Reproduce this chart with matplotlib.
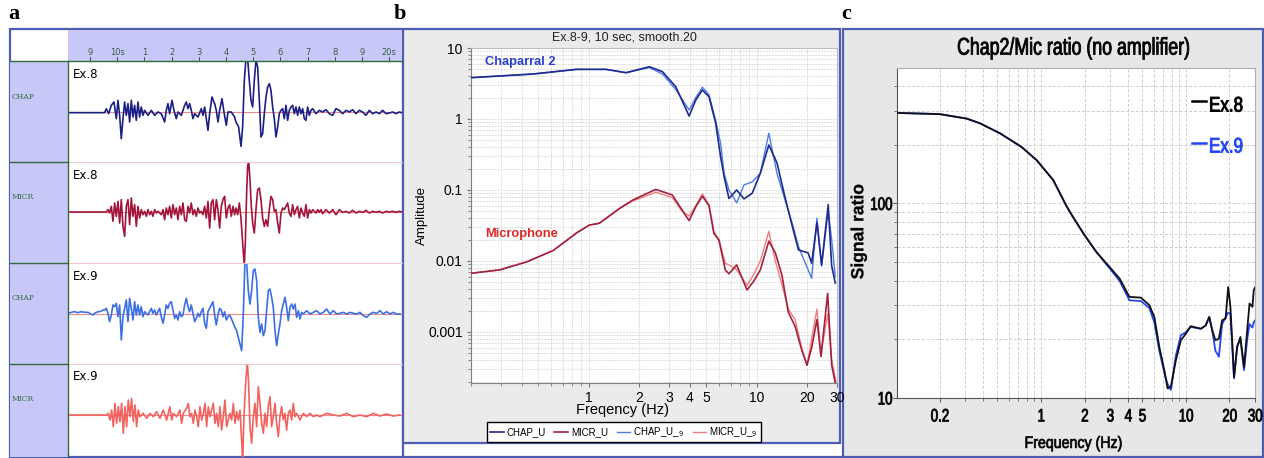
import numpy as np
import matplotlib.pyplot as plt
from matplotlib.patches import Rectangle, PathPatch
from matplotlib.lines import Line2D
from matplotlib.textpath import TextPath
from matplotlib.font_manager import FontProperties
from matplotlib.transforms import Affine2D
from matplotlib.ticker import LogLocator, NullFormatter

SANS = ['Liberation Sans', 'DejaVu Sans']
plt.rcParams['font.family'] = SANS

# ---------------- panel a : traces (sample no., amplitude counts) ----------------
T0 = 8.19     # s, time of sample 0
FS = 81.6     # samples / s

chap8 = [(0,-2),(110,-2),(115,10),(122,-5),(130,20),(138,30),(145,-20),(150,35),(155,-10),(160,-80),
         (165,-20),(170,30),(175,-10),(180,25),(185,-30),(190,35),(195,-15),(200,20),(205,-25),(210,30),
         (215,-15),(220,15),(225,-10),(230,5),(240,-10),(250,5),(260,-10),(270,0),(280,-5),(290,-30),
         (295,5),(300,25),(305,-5),(312,35),(318,5),(325,-20),(330,0),(340,-10),(350,20),(355,30),
         (360,10),(365,25),(370,5),(375,-20),(380,-5),(390,-15),(400,10),(405,-10),(410,15),(415,-20),
         (420,-55),(425,-5),(432,45),(440,25),(445,5),(450,-30),(455,5),(462,40),(468,0),(475,-40),
         (480,0),(490,0),(500,-15),(504,-30),(512,-45),(519,-103),(524,-45),(529,95),(534,160),(539,160),
         (544,95),(549,35),(554,15),(559,95),(564,155),(569,135),(574,35),(579,-75),(584,-65),(589,-5),
         (594,45),(599,75),(604,85),(609,65),(614,15),(619,-20),(624,-75),(629,-45),(634,-5),(639,5),
         (644,10),(649,-20),(654,20),(659,-25),(664,5),(669,15),(674,20),(679,-5),(684,15),(689,-10),
         (694,15),(699,-5),(704,10),(709,-20),(714,-25),(719,15),(724,-10),(729,5),(734,10),(744,-5),
         (754,5),(764,0),(774,7),(784,-5),(794,-10),(804,10),(814,5),(824,-5),(834,5),(844,0),(854,7),
         (864,-5),(874,5),(884,0),(894,-10),(904,5),(914,-5),(924,0),(934,-5),(944,5),(954,-5),(964,-3),
         (974,0),(984,-5),(994,0),(1004,-3)]

micr8 = [(0,0),(115,0),(120,7),(125,-3),(130,17),(135,-28),(140,27),(145,-13),(150,32),(155,-33),
         (160,37),(165,-43),(170,-73),(175,17),(180,37),(185,-38),(190,42),(195,-13),(200,22),(205,-43),
         (210,17),(215,-18),(220,7),(225,-8),(230,2),(235,-13),(240,7),(245,-8),(250,2),(255,-13),
         (260,7),(265,-3),(270,2),(280,-8),(285,7),(290,-23),(295,12),(300,-8),(305,17),(310,-18),
         (315,22),(320,-8),(325,12),(330,-23),(335,17),(340,-8),(345,27),(350,-23),(355,-28),(360,17),
         (365,-3),(370,27),(375,-8),(380,7),(385,-13),(390,12),(395,-3),(400,2),(405,-8),(410,17),
         (415,-18),(420,32),(425,-48),(430,27),(435,37),(440,-23),(445,37),(450,7),(455,-48),(460,17),
         (465,37),(470,47),(475,-18),(480,12),(485,22),(490,-13),(495,17),(500,-8),(504,12),(509,-8),
         (514,27),(519,-18),(524,-93),(529,-160),(532,-93),(536,57),(539,137),(542,155),(546,97),(550,17),
         (554,-33),(559,-63),(564,7),(569,67),(574,72),(579,37),(584,-18),(589,-43),(594,-23),(599,-43),
         (604,7),(609,47),(614,37),(619,2),(624,7),(629,-33),(634,-63),(639,-3),(644,12),(649,7),
         (654,17),(659,27),(664,-3),(669,-13),(674,22),(679,-8),(684,7),(689,17),(694,-18),(699,12),
         (704,-3),(709,-13),(714,22),(719,-18),(724,7),(729,-3),(734,7),(744,-3),(749,7),(754,-1),
         (759,7),(764,-5),(774,7),(784,-3),(794,7),(804,-8),(814,7),(824,-1),(834,2),(844,-3),(854,5),
         (864,-3),(874,2),(884,-1),(894,5),(904,-3),(914,2),(924,-1),(934,2),(944,-3),(954,2),(964,0),
         (974,2),(984,-1),(994,2),(1004,0)]

chap9 = [(0,2),(10,5),(20,7),(30,4),(40,7),(50,5),(60,5),(70,-1),(75,-3),(80,2),(90,7),(95,7),
         (100,9),(105,12),(110,12),(115,17),(120,2),(125,-23),(130,-3),(135,27),(140,22),(145,32),
         (150,-8),(155,27),(160,-78),(165,-8),(170,17),(175,42),(180,-23),(185,47),(190,17),(195,-18),
         (200,37),(205,-3),(210,27),(215,-3),(220,22),(225,-8),(230,7),(240,-3),(250,17),(255,2),
         (260,12),(265,-3),(270,7),(275,17),(280,-8),(285,-28),(290,-3),(295,27),(300,17),(305,32),
         (310,37),(315,12),(320,-13),(325,-3),(330,-18),(335,7),(340,-8),(345,-3),(350,27),(355,47),
         (360,22),(365,7),(370,27),(375,2),(380,-23),(385,-13),(390,2),(395,-8),(400,7),(405,17),
         (410,-28),(415,-43),(420,7),(425,17),(430,27),(435,37),(440,-3),(445,-33),(450,-3),(455,17),
         (460,12),(465,-8),(470,7),(475,-18),(480,-8),(485,-3),(490,-13),(500,-38),(506,-50),(516,-90),
         (521,-110),(526,0),(531,160),(536,155),(541,70),(546,30),(551,70),(556,130),(561,135),(566,100),
         (571,-10),(576,-55),(581,-30),(586,-65),(591,-50),(596,10),(601,70),(606,75),(611,50),(616,20),
         (621,-50),(626,-95),(631,-60),(636,-30),(641,10),(646,30),(651,50),(656,20),(661,-20),(666,20),
         (671,30),(676,15),(681,30),(686,-10),(691,10),(696,-15),(701,5),(706,0),(716,10),(726,0),
         (736,5),(746,10),(756,0),(766,5),(776,15),(786,0),(796,10),(806,0),(816,2),(826,5),(836,0),
         (846,5),(856,2),(866,0),(876,5),(886,-5),(896,-10),(906,0),(916,5),(926,2),(936,10),(946,0),
         (956,7),(966,0),(976,5),(986,0),(996,0)]

micr9 = [(0,0),(116,0),(121,5),(126,-15),(131,15),(136,-35),(141,35),(146,-25),(151,25),(156,-20),
         (161,35),(166,-55),(171,25),(176,-35),(181,45),(186,-5),(191,50),(196,-20),(201,30),(206,-35),
         (211,15),(216,-5),(226,5),(236,-10),(246,5),(256,-5),(266,10),(276,-10),(286,15),(296,-15),
         (301,5),(306,25),(311,-15),(316,5),(326,-5),(336,15),(341,-25),(346,5),(356,20),(361,35),
         (366,-5),(371,5),(376,-25),(381,15),(386,-5),(391,-35),(396,25),(401,-15),(406,5),(411,35),
         (416,-35),(421,25),(426,-5),(436,35),(441,-25),(446,5),(451,-35),(456,25),(461,-45),(466,-5),
         (471,45),(476,-35),(486,5),(491,-15),(496,35),(501,-25),(506,10),(511,-15),(516,15),(521,-75),
         (524,-140),(528,-5),(533,95),(538,160),(542,95),(546,-35),(551,-85),(556,-5),(561,35),(566,-35),
         (571,85),(576,35),(581,-25),(586,-55),(591,5),(596,-35),(601,25),(606,55),(611,-35),(616,-5),
         (621,35),(626,-25),(631,-65),(636,-5),(641,25),(646,-15),(651,5),(656,-45),(661,5),(666,15),
         (671,-15),(676,35),(681,-5),(686,5),(696,-15),(706,5),(716,-5),(726,5),(736,-5),(746,0),
         (756,-5),(776,5),(796,0),(816,-3),(836,5),(856,-5),(876,0),(896,-5),(916,5),(936,-3),(956,3),
         (976,-3),(996,0)]

trace_names = ['CHAP', 'MICR', 'CHAP', 'MICR']
trace_titles = ['Ex.8', 'Ex.8', 'Ex.9', 'Ex.9']
trace_colors = ['#1b1f86', '#a3143a', '#3b6fe6', '#f2625e']
time_ticks = [9, 10, 11, 12, 13, 14, 15, 16, 17, 18, 19, 20]
time_labels = ['9', '10s', '1', '2', '3', '4', '5', '6', '7', '8', '9', '20s']

# ---------------- panel b : amplitude spectra ----------------
chap_f = [0.2, 0.467, 0.846, 1.27, 1.67, 2.3, 2.75, 3.3, 3.96, 4.34, 4.75, 5.2, 5.7, 6.1, 6.4, 6.83,
          7.6, 8.4, 9.4, 10.5, 11.8, 13.2, 14.8, 16.5, 17.7, 20.2, 21.2, 22.8, 24.3, 26.6, 27.9, 29.3]
chap_u = [3.82, 4.3, 5.0, 5.0, 4.49, 5.45, 4.64, 2.85, 1.1, 1.85, 2.56, 2.06, 0.87, 0.29, 0.154, 0.076,
          0.1, 0.075, 0.09, 0.172, 0.43, 0.24, 0.075, 0.027, 0.0143, 0.013, 0.0093, 0.035, 0.0088, 0.062,
          0.0085, 0.0049]
chap_u9 = [3.82, 4.3, 5.0, 5.0, 4.49, 5.3, 4.3, 2.6, 1.34, 2.0, 2.8, 2.2, 0.95, 0.45, 0.17, 0.1,
           0.066, 0.118, 0.13, 0.172, 0.63, 0.17, 0.07, 0.03, 0.016, 0.0075, 0.0057, 0.04, 0.0085, 0.05,
           0.02, 0.006]
micr_f = [0.2, 0.297, 0.428, 0.615, 0.846, 1.01, 1.16, 1.53, 1.83, 2.51, 3.15, 3.6, 3.96, 4.34, 4.75,
          5.2, 5.56, 5.96, 6.5, 6.83, 7.6, 8.75, 9.6, 10.5, 11.8, 12.9, 14.1, 15.4, 16.9, 18.5, 19.9,
          21.2, 22.8, 24.1, 26.4, 27.9, 29.6]
micr_u = [0.0067, 0.0075, 0.0097, 0.014, 0.0247, 0.032, 0.034, 0.055, 0.072, 0.102, 0.085, 0.052, 0.037,
          0.058, 0.082, 0.06, 0.0245, 0.0197, 0.0075, 0.0066, 0.0088, 0.0039, 0.0052, 0.0075, 0.019,
          0.013, 0.0064, 0.0019, 0.0012, 0.00056, 0.00034, 0.0006, 0.0015, 0.00045, 0.0035, 0.00034,
          0.00017]
micr_u9 = [0.0067, 0.0075, 0.0097, 0.014, 0.0247, 0.032, 0.034, 0.055, 0.07, 0.093, 0.078, 0.05, 0.043,
           0.06, 0.088, 0.062, 0.026, 0.0197, 0.0093, 0.0088, 0.0075, 0.0045, 0.0065, 0.01, 0.026, 0.01,
           0.0047, 0.0021, 0.0015, 0.0006, 0.00034, 0.0008, 0.0021, 0.0005, 0.0018, 0.0004, 0.0002]

# ---------------- panel c : Chap2 / Mic ratio ----------------
ratio_f = [0.1016, 0.2, 0.308, 0.381, 0.524, 0.736, 0.934, 1.215, 1.5, 1.667, 2.0, 2.41, 2.97, 3.49,
           4.08, 4.9, 5.6, 6.06, 6.56, 7.1, 7.48, 7.88, 8.53, 9.23, 10.0, 10.8, 12.7, 13.7, 14.5, 15.2,
           16.0, 16.9, 17.8, 18.8, 19.6, 20.3, 21.5, 22.6, 23.8, 25.2, 26.5, 27.5, 28.8, 29.4, 30.0]
ratio_ex8 = [292, 288, 273, 258, 229, 195, 167, 132, 97, 85, 68.7, 56.4, 47.2, 41.1, 33.1, 32.8, 30.0,
             26.1, 18.3, 13.9, 11.2, 11.4, 15.6, 19.8, 21.4, 23.4, 22.7, 23.6, 26.1, 22.3, 19.8, 20.2,
             25.1, 25.6, 37.2, 29.4, 12.8, 18.3, 20.6, 14.4, 22.3, 30.6, 29.4, 35.8, 37.0]
ratio_ex9 = [292, 288, 273, 258, 229, 195, 167, 132, 97, 85, 68.7, 56.4, 46.5, 40.0, 31.8, 31.5, 29.0,
             24.5, 17.5, 13.5, 11.8, 11.0, 16.5, 21.0, 21.8, 23.2, 22.7, 23.6, 26.1, 22.3, 17.5, 16.3,
             24.0, 26.0, 27.5, 27.0, 12.6, 18.5, 20.0, 13.9, 20.0, 24.0, 23.0, 24.5, 25.0]
ratio_xticks = [0.2, 1, 2, 3, 4, 5, 10, 20, 30]
ratio_xlabels = ['0.2', '1', '2', '3', '4', '5', '10', '20', '30']
ratio_yticks = [10, 100]
ratio_ylabels = ['10', '100']

# ---------------- layout helpers (pixel coords, origin top-left) ----------------
W, H = 1264, 458
fig = plt.figure(figsize=(W / 100, H / 100), dpi=100)
fig.patch.set_facecolor('white')


def rect(x0, y0, x1, y1):
    return [x0 / W, 1 - y1 / H, (x1 - x0) / W, (y1 - y0) / H]


def ftext(x, y, s, **kw):
    fig.text(x / W, 1 - y / H, s, **kw)


def fbox(x0, y0, x1, y1, **kw):
    fig.add_artist(Rectangle((x0 / W, 1 - y1 / H), (x1 - x0) / W, (y1 - y0) / H,
                             transform=fig.transFigure, **kw))


def fline(xs, ys, **kw):
    fig.add_artist(Line2D([x / W for x in xs], [1 - y / H for y in ys],
                          transform=fig.transFigure, **kw))


def ntext(x, y, s, em, sx, color='black', weight='normal', ha='center', rot=0, stroke=0.4):
    # condensed text: Liberation Sans outlines squeezed horizontally, centred on cap height
    tp = TextPath((0, 0), s, size=em, prop=FontProperties(family='Liberation Sans', weight=weight))
    w = tp.get_extents().x1
    ox = {'left': 0, 'center': -w / 2, 'right': -w}[ha]
    tr = (Affine2D().translate(ox, -0.716 * em / 2).scale(sx, 1).rotate_deg(rot)
          .translate(x, H - y).scale(1 / W, 1 / H) + fig.transFigure)
    fig.add_artist(PathPatch(tp, transform=tr, fc=color, ec=color, lw=stroke, zorder=6))


FRAME = '#4e5cb4'
GREEN = '#2f6b3c'

# ---------------- panel a ----------------
fbox(10, 29, 403, 457, fc='white', ec=FRAME, lw=1.6, zorder=-5)
fbox(10, 61, 68, 457, fc='#c8c8f8', ec='none', zorder=-4)
fbox(68, 30, 402, 61, fc='#c8c8f8', ec='none', zorder=-4)

ax_h = fig.add_axes(rect(69, 30, 402, 61))
ax_h.set_xlim(8.228, 20.47)
ax_h.set_ylim(0, 1)
ax_h.axis('off')
for t, lab in zip(time_ticks, time_labels):
    ax_h.plot([t, t], [0, 0.12], color=GREEN, lw=0.7)
    ax_h.text(t, 0.27, lab, ha='center', va='center', fontsize=6, color='#3d5e43',
              family='DejaVu Sans')

rows = [(61, 162, 112), (162, 263, 212), (263, 364, 314), (364, 457, 415)]
label_y = [97, 197, 298, 399]
traces = [chap8, micr8, chap9, micr9]
for i, (top, bot, base) in enumerate(rows):
    ax = fig.add_axes(rect(69, top, 402, bot))
    ax.axis('off')
    ax.set_xlim(8.228, 20.47)
    ax.set_ylim(-(bot - base) * 3, (base - top) * 3)
    ax.axhline(0, color='#f08a8a', lw=0.8, zorder=1)
    n, amp = np.array(traces[i], dtype=float).T
    ax.plot(T0 + n / FS, amp, color=trace_colors[i], lw=1.2, zorder=2)
    ax.text(0.012, 0.87, trace_titles[i], transform=ax.transAxes, fontsize=8.5,
            family='DejaVu Sans', color='black', va='center')
    ftext(12, label_y[i], trace_names[i], fontsize=5.5, family='DejaVu Serif',
          color=GREEN, va='center')
    if i > 0:
        fline([10, 68], [top, top], color=GREEN, lw=1.0, zorder=5)
        fline([69, 402], [top, top], color='#f3c4cc', lw=0.8, zorder=5)

fline([10, 402], [61, 61], color=GREEN, lw=1.0, zorder=5)
fline([68, 68], [61, 457], color=GREEN, lw=1.0, zorder=5)

# ---------------- panel b ----------------
fbox(403, 29, 840, 443, fc='#ebebeb', ec=FRAME, lw=1.6, zorder=-5)
fline([403, 842], [457, 457], color=FRAME, lw=1.6, zorder=5)

axb = fig.add_axes(rect(471, 48, 837, 383))
axb.set_facecolor('white')
axb.set_xscale('log')
axb.set_yscale('log')
lb1, = axb.plot(chap_f, chap_u, color='#1f2a8c', lw=1.2, zorder=4)
lb2, = axb.plot(micr_f, micr_u, color='#a3203f', lw=1.2, zorder=4)
lb3, = axb.plot(chap_f, chap_u9, color='#4a7be6', lw=1.0, zorder=3)
lb4, = axb.plot(micr_f, micr_u9, color='#f27c7c', lw=1.0, zorder=3)
axb.set_xlim(0.2, 30)
axb.set_ylim(1.91e-4, 10)
axb.set_xticks([1, 2, 3, 4, 5, 10, 20, 30], ['1', '2', '3', '4', '5', '10', '20', '30'])
axb.xaxis.set_minor_locator(LogLocator(base=10, subs=np.arange(2, 10)))
axb.xaxis.set_minor_formatter(NullFormatter())
axb.set_yticks([1e-3, 1e-2, 0.1, 1, 10], ['0.001', '0.01', '0.1', '1', '10'])
axb.yaxis.set_minor_locator(LogLocator(base=10, subs=np.arange(2, 10)))
axb.yaxis.set_minor_formatter(NullFormatter())
axb.tick_params(which='both', labelsize=10, color='#777777', length=3, pad=3)
axb.tick_params(which='minor', length=2)
axb.grid(True, which='both', color='#d2d2d2', lw=0.6, ls=(0, (2, 1.5)))
for s in ['left', 'bottom']:
    axb.spines[s].set_color('#808080')
for s in ['top', 'right']:
    axb.spines[s].set_color('#c0c0c0')
axb.text(0.038, 0.958, 'Chaparral 2', transform=axb.transAxes, color='#2b3fd0',
         fontsize=9.3, fontweight='bold', va='center')
axb.text(0.038, 0.445, 'Microphone', transform=axb.transAxes, color='#e02828',
         fontsize=9.3, fontweight='bold', va='center')
ftext(624, 37, 'Ex.8-9, 10 sec, smooth.20', fontsize=9, ha='center', va='center', color='#222222')
ftext(422, 215, 'Amplitude', fontsize=9.5, rotation=90, ha='center', va='center')
ftext(623, 410, 'Freqency (Hz)', fontsize=10.5, ha='center', va='center')
fig.legend([lb1, lb2, lb3, lb4], ['CHAP_U', 'MICR_U', 'CHAP_U_${}_{9}$', 'MICR_U_${}_{9}$'],
           loc='center', bbox_to_anchor=(624 / W, 1 - 432 / H), ncol=4, fontsize=7,
           frameon=True, fancybox=False, edgecolor='black', framealpha=1,
           handlelength=1.4, handletextpad=0.3, columnspacing=0.9, borderpad=0.35)

# ---------------- panel c ----------------
fbox(843, 29, 1263, 457, fc='#e7e7e7', ec=FRAME, lw=1.6, zorder=-5)
axc = fig.add_axes(rect(897, 68, 1255, 398))
axc.set_facecolor('white')
axc.set_xscale('log')
axc.set_yscale('log')
axc.plot(ratio_f, ratio_ex9, color='#2346f5', lw=1.3, zorder=3)
axc.plot(ratio_f, ratio_ex8, color='#111111', lw=1.3, zorder=4)
axc.set_xlim(0.1016, 30)
axc.set_ylim(10, 497)
axc.set_xticks(ratio_xticks, [''] * len(ratio_xticks))
axc.xaxis.set_minor_locator(LogLocator(base=10, subs=np.arange(2, 10)))
axc.xaxis.set_minor_formatter(NullFormatter())
axc.set_yticks(ratio_yticks, [''] * len(ratio_yticks))
axc.yaxis.set_minor_locator(LogLocator(base=10, subs=np.arange(2, 10)))
axc.yaxis.set_minor_formatter(NullFormatter())
axc.tick_params(which='both', color='#666666', length=3)
axc.tick_params(which='minor', length=2)
axc.grid(True, which='both', color='#cccccc', lw=0.7, ls=(0, (3, 2)))
for s in ['left', 'bottom']:
    axc.spines[s].set_color('#555555')
for s in ['top', 'right']:
    axc.spines[s].set_color('#b0b0b0')

# condensed tick labels placed through the axes transform
for v, lab in zip(ratio_xticks, ratio_xlabels):
    px, _ = axc.transData.transform((v, 10))
    ntext(px, 415, lab, 18, 0.74, stroke=0.6)
for v, lab in zip(ratio_yticks, ratio_ylabels):
    _, py = axc.transData.transform((0.2, v))
    ntext(892, H - py, lab, 18, 0.74, ha='right', stroke=0.6)

ntext(1073, 46, 'Chap2/Mic ratio (no amplifier)', 24, 0.74, stroke=0.6)
ntext(1073, 442, 'Frequency (Hz)', 16.5, 0.86, stroke=0.5)
ntext(857, 232, 'Signal ratio', 17.5, 1.0, weight='bold', rot=90, stroke=0.2)
fline([1192, 1206], [101, 101], color='black', lw=1.8, zorder=5)
fline([1192, 1206], [143, 143], color='#2346f5', lw=1.8, zorder=5)
ntext(1209, 104, 'Ex.8', 21, 0.81, ha='left', stroke=0.7)
ntext(1209, 145, 'Ex.9', 21, 0.81, color='#2346f5', ha='left', stroke=0.7)

# ---------------- panel letters ----------------
for x, y, s in [(14, 14, 'a'), (400, 14, 'b'), (846, 14, 'c')]:
    ftext(x, y, s, fontsize=16, fontweight='bold', family=['Liberation Serif', 'DejaVu Serif'],
          ha='center', va='center')

fig.savefig('out.png', dpi=100)
